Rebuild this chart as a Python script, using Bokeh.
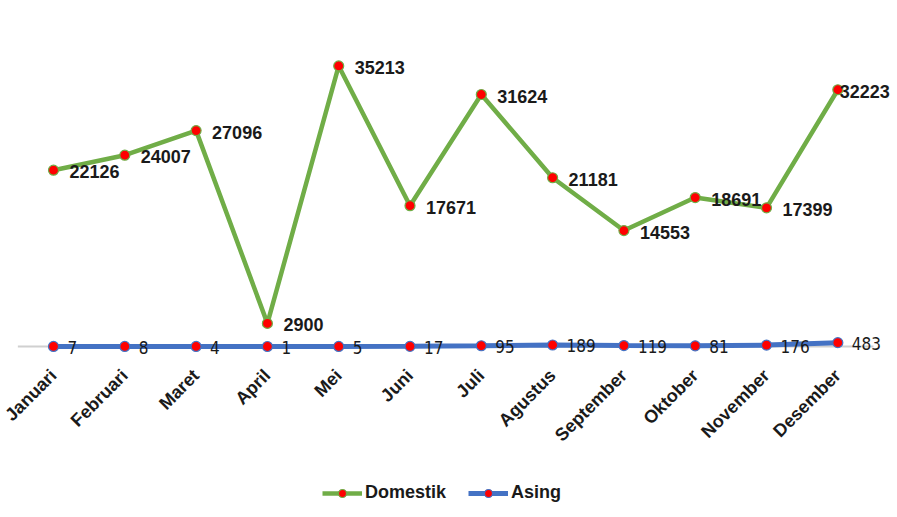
import math
from bokeh.plotting import figure
from bokeh.models import (Range1d, ColumnDataSource, FixedTicker, Legend,
                          LegendItem, LabelSet)
from bokeh.core.properties import value
from bokeh.embed import file_html
from bokeh.resources import INLINE

months = ["Januari", "Februari", "Maret", "April", "Mei", "Juni", "Juli",
          "Agustus", "September", "Oktober", "November", "Desember"]
domestik = [22126, 24007, 27096, 2900, 35213, 17671, 31624, 21181,
            14553, 18691, 17399, 32223]
asing = [7, 8, 4, 1, 5, 17, 95, 189, 119, 81, 176, 483]

GREEN = "#70AD47"
BLUE = "#4472C4"

xs = list(range(len(months)))
# label offset style: the last domestic label sits over its marker
dom_dx = [16] * (len(months) - 1) + [2]

src = ColumnDataSource(dict(
    x=xs, dom=domestik, asg=asing,
    dom_txt=[str(v) for v in domestik],
    asg_txt=[str(v) for v in asing],
    dom_dx=dom_dx,
))

p = figure(width=897, height=517, output_backend="svg", toolbar_location=None,
           x_range=Range1d(-0.7433, 11.837), y_range=Range1d(-21460, 43423),
           y_axis_location=None,
           min_border_left=0, min_border_right=0, min_border_top=0,
           min_border_bottom=0)
p.outline_line_color = None
p.grid.grid_line_color = None
p.background_fill_color = "white"

# baseline (category axis line)
p.segment(x0=[xs[0] - 0.5], y0=[0], x1=[xs[-1] + 0.5], y1=[0],
          line_color="#d0d0d0", line_width=2)

# x axis drawn at y = 0
ax = p.xaxis[0]
ax.fixed_location = 0
ax.ticker = FixedTicker(ticks=xs)
ax.major_label_overrides = {i: m for i, m in zip(xs, months)}
ax.major_label_orientation = math.pi / 4
ax.axis_line_color = None
ax.major_tick_line_color = None
ax.minor_tick_line_color = None
ax.major_label_standoff = 20
ax.major_label_text_font = "Liberation Sans"
ax.major_label_text_font_style = "bold"
ax.major_label_text_font_size = "18px"
ax.major_label_text_color = "#1a1a1a"

# series
dl = p.line("x", "dom", source=src, line_color=GREEN, line_width=4.5)
ds = p.scatter("x", "dom", source=src, size=10, fill_color="#ff0000",
               line_color=GREEN, line_width=1.2)
al = p.line("x", "asg", source=src, line_color=BLUE, line_width=5)
as_ = p.scatter("x", "asg", source=src, size=10, fill_color="#ff0000",
                line_color=BLUE, line_width=1.2)

# data labels
p.add_layout(LabelSet(x="x", y="dom", text="dom_txt", source=src,
                      x_offset="dom_dx", y_offset=-1.5,
                      text_baseline="middle", text_align="left",
                      text_font=value("Liberation Sans"),
                      text_font_style="bold", text_font_size="18px",
                      text_color="#1a1a1a"))
p.add_layout(LabelSet(x="x", y="asg", text="asg_txt", source=src,
                      x_offset=14, y_offset=-1,
                      text_baseline="middle", text_align="left",
                      text_font=value("DejaVu Sans Condensed"),
                      text_font_size="17px", text_color="#1a1a1a"))

legend = Legend(items=[LegendItem(label="Domestik", renderers=[dl, ds]),
                       LegendItem(label="Asing", renderers=[al, as_])],
                location=(322, 14), orientation="horizontal",
                glyph_width=40, glyph_height=20, label_standoff=3,
                spacing=22, padding=0, margin=0,
                border_line_color=None, background_fill_alpha=0,
                label_text_font="Liberation Sans",
                label_text_font_style="bold",
                label_text_font_size="18px", label_text_color="#1a1a1a")
p.add_layout(legend, "center")

open("out.html", "w").write(file_html(p, INLINE))
